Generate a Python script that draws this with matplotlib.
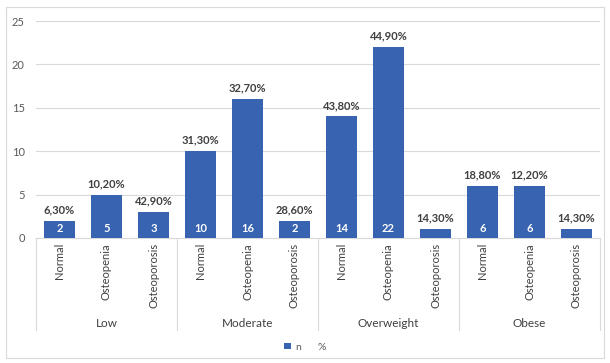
import matplotlib
matplotlib.use("Agg")
import matplotlib.pyplot as plt
from matplotlib.patches import Patch, Rectangle
import numpy as np

plt.rcParams['font.family'] = ['Lato', 'DejaVu Sans']

# bone status within each BMI group
groups = ["Low", "Moderate", "Overweight", "Obese"]
status = ["Normal", "Osteopenia", "Osteoporosis"]
n = [2, 5, 3, 10, 16, 2, 14, 22, 1, 6, 6, 1]
pct = [6.3, 10.2, 42.9, 31.3, 32.7, 28.6, 43.8, 44.9, 14.3, 18.8, 12.2, 14.3]

blue = "#3763B0"
dark = "#404040"
grey = "#595959"

fig = plt.figure(figsize=(6.1, 3.63), dpi=100)
ax = fig.add_axes([36/610, 125/363, 564/610, 217/363])

x = np.arange(len(n))
ax.bar(x, n, width=0.68, color=blue, zorder=3)
ax.set_xlim(-0.5, len(n) - 0.5)
ax.set_ylim(0, 25)
ax.set_yticks(range(0, 26, 5))
ax.tick_params(axis='y', length=0, labelsize=8, labelcolor=grey, pad=8)
ax.set_xticks([])
ax.grid(axis='y', color="#d9d9d9", lw=0.8, zorder=0)
for s in ["top", "right", "left"]:
    ax.spines[s].set_visible(False)
ax.spines["bottom"].set_color("#d9d9d9")

# percentages on top, counts inside the bars
for xi, v, p in zip(x, n, pct):
    ax.annotate(("%.2f" % p).replace(".", ",") + "%",
                (xi, v), xytext=(0, 4), textcoords="offset points",
                ha="center", va="bottom", fontsize=8, fontweight="bold", color=dark)
    if v >= 2:
        ax.annotate(str(v), (xi, 0), xytext=(0, 3), textcoords="offset points",
                    ha="center", va="bottom", fontsize=8, fontweight="bold", color="white",
                    zorder=4)

# two-level category axis
tr = ax.get_xaxis_transform()
for i in range(len(n)):
    ax.text(i, -0.023, status[i % 3], transform=tr, rotation=90, ha="center", va="top",
            fontsize=8, color=dark)
for g, name in enumerate(groups):
    ax.text(g * 3 + 1, -0.392, name, transform=tr, ha="center", va="center",
            fontsize=8.5, color=dark)
for b in range(len(groups) + 1):
    ax.plot([b * 3 - 0.5] * 2, [0, -0.424], transform=tr, color="#d9d9d9", lw=0.8,
            clip_on=False)

handles = [Patch(facecolor=blue, edgecolor="none"), Patch(facecolor="none", edgecolor="none")]
fig.legend(handles, ["n", "%"], loc="center", bbox_to_anchor=(0.5, 16/363), ncol=2,
           frameon=False, fontsize=7.5, handlelength=0.6, handleheight=0.6,
           handletextpad=0.4, columnspacing=0.6, labelcolor=grey)

# chart frame
fig.patches.append(Rectangle((6/610, 5/363), 598/610, 351/363, transform=fig.transFigure,
                             fill=False, edgecolor="#d9d9d9", lw=0.8))

fig.savefig("out.png", dpi=100)
